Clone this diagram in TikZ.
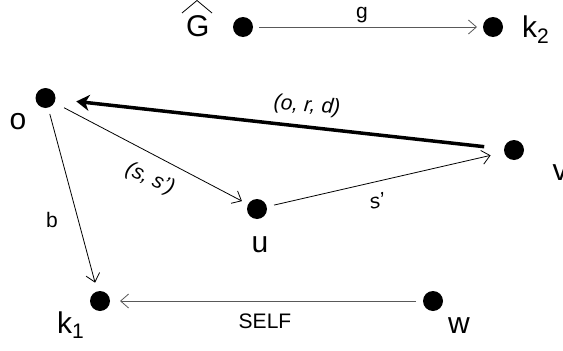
\documentclass[tikz,border=0pt]{standalone}
\usepackage{fontspec}
\setmainfont{Liberation Sans}
\usetikzlibrary{arrows.meta}
\tikzset{
  dot/.style={circle,fill=black,inner sep=0pt,outer sep=0pt,minimum size=20pt},
  vlabel/.style={inner sep=0pt,font=\fontsize{30}{30}\selectfont},
  elabel/.style={inner sep=0pt,font=\fontsize{21}{21}\selectfont},
  ilabel/.style={inner sep=0pt,font=\fontsize{21}{21}\selectfont\itshape},
  thin arrow/.style={line width=0.8pt,-{Straight Barb[length=8pt,width=14pt,line width=0.8pt]}},
  thick arrow/.style={line width=3.5pt,-{Stealth[length=13pt,width=16pt,inset=4pt]}},
}
\begin{document}
\begin{tikzpicture}[x=1pt,y=-1pt]
\useasboundingbox (0,0) rectangle (563,351);
% dots
\node[dot] (G) at (243,27) {};
\node[dot] (k2) at (493,27) {};
\node[dot] (o) at (45.5,98) {};
\node[dot] (v) at (514,150) {};
\node[dot] (u) at (257,209) {};
\node[dot] (k1) at (100,301) {};
\node[dot] (w) at (433,301) {};
% vertex labels
\node[vlabel,anchor=base west] (Gl) at (186,36) {G};
\draw[line width=0.8pt] (182,13) -- (197,0.5) -- (212,13);
\node[vlabel,anchor=base west] (k2l) at (522,37) {k\textsubscript{2}};
\node[vlabel,anchor=base] (ol) at (18,129) {o};
\node[vlabel,anchor=base] (vl) at (560,180) {v};
\node[vlabel,anchor=base] (ul) at (260,252) {u};
\node[vlabel,anchor=base west] (k1l) at (57,333) {k\textsubscript{1}};
\node[vlabel,anchor=base] (wl) at (459,333) {w};
% edges
\draw[thin arrow,black!65] (G) -- (k2) [shorten <=6pt,shorten >=6pt];
\draw[thick arrow] (v) -- (o) [shorten <=20pt,shorten >=21pt];
\draw[thin arrow] (o) -- (u) [shorten <=11pt,shorten >=7pt];
\draw[thin arrow] (u) -- (v) [shorten <=7.5pt,shorten >=14pt];
\draw[thin arrow] (o) -- (k1) [shorten <=6.5pt,shorten >=9pt];
\draw[thin arrow,black!65] (w) -- (k1) [shorten <=7pt,shorten >=10pt];
% edge labels
\node[elabel,anchor=base] (gl) at (362,18.5) {g};
\node[ilabel,rotate=-5] (ord) at (307,106) {(o, r, d)};
\node[ilabel,rotate=-25] (ss) at (150,179) {(s, s')};
\node[ilabel,rotate=12] (sp) at (377,201) {s'};
\node[elabel] (bl) at (52,220) {b};
\node[elabel,anchor=base] (self) at (265,328) {SELF};
\end{tikzpicture}
\end{document}
